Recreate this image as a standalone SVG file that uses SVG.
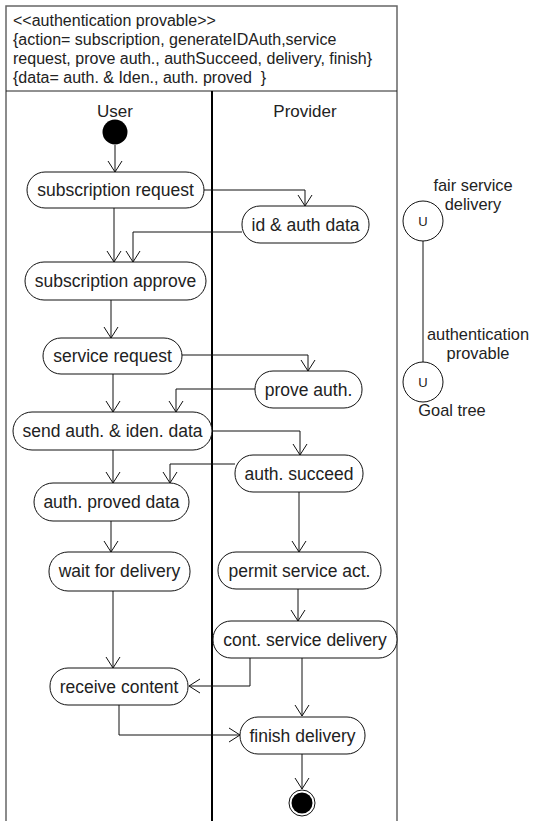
<svg xmlns="http://www.w3.org/2000/svg" width="536" height="821" viewBox="0 0 536 821">
<defs>
<marker id="arr" markerUnits="userSpaceOnUse" viewBox="-12 -8 14 16" refX="0" refY="0" markerWidth="14" markerHeight="16" orient="auto">
<path d="M-11,-7 L0,0 L-11,7" fill="none" stroke="#111" stroke-width="1"/>
</marker>
<style>
.node rect{fill:#fff;stroke:#111;stroke-width:1}
.node text,.t{font-family:"Liberation Sans",Arial,sans-serif;fill:#222}
.node text{font-size:17.5px;text-anchor:middle}
.hdr{font-family:"Liberation Sans",Arial,sans-serif;font-size:16px;fill:#222;white-space:pre}
.lane{font-family:"Liberation Sans",Arial,sans-serif;font-size:17px;fill:#222;text-anchor:middle}
.goal{font-family:"Liberation Sans",Arial,sans-serif;font-size:16.4px;fill:#222;text-anchor:middle}
#connectors path{fill:none;stroke:#111;stroke-width:1;marker-end:url(#arr)}
</style>
</defs>
<rect width="536" height="821" fill="#fff"/>
<g id="frame">
<path d="M6,821 L6,6 L397,6 L397,821" fill="none" stroke="#666" stroke-width="1.5"/>
<line x1="6" y1="91" x2="397" y2="91" stroke="#222" stroke-width="1"/>
<line x1="212" y1="91" x2="212" y2="821" stroke="#000" stroke-width="2"/>
<text class="hdr" x="13" y="26">&lt;&lt;authentication provable&gt;&gt;</text>
<text class="hdr" x="13" y="45">{action= subscription, generateIDAuth,service</text>
<text class="hdr" x="13" y="64">request, prove auth., authSucceed, delivery, finish}</text>
<text class="hdr" x="13" y="83" xml:space="preserve">{data= auth. &amp; Iden., auth. proved  }</text>
<text class="lane" x="115" y="117">User</text>
<text class="lane" x="305" y="117">Provider</text>
</g>
<g id="connectors">
<path d="M115,145 L115,172"/>
<path d="M204,190 L305,190 L305,206"/>
<path d="M242,232 L133,232 L133,262"/>
<path d="M114,208 L114,262"/>
<path d="M111,300 L111,338"/>
<path d="M182,355 L308,355 L308,371"/>
<path d="M255,389 L176,389 L176,412"/>
<path d="M113,374 L113,412"/>
<path d="M212,431 L300,431 L300,455"/>
<path d="M235,464 L170,464 L170,483"/>
<path d="M113,450 L113,483"/>
<path d="M111,521 L111,552"/>
<path d="M299,492 L299,552"/>
<path d="M113,591 L113,668"/>
<path d="M298,589 L298,621"/>
<path d="M250,658 L250,686 L189,686"/>
<path d="M302,658 L302,716"/>
<path d="M119,705 L119,735 L240,735"/>
<path d="M302,754 L302,789"/>
</g>
<g id="start"><circle cx="115" cy="132" r="12.5" fill="#000"/></g>
<g id="n1" class="node"><rect x="27" y="172" width="177" height="36" rx="18"/><text x="115.5" y="196">subscription request</text></g>
<g id="n2" class="node"><rect x="242" y="206" width="127" height="37" rx="18"/><text x="305.5" y="231">id &amp; auth data</text></g>
<g id="n3" class="node"><rect x="25" y="262" width="181" height="38" rx="19"/><text x="115.5" y="287">subscription approve</text></g>
<g id="n4" class="node"><rect x="43" y="338" width="139" height="36" rx="18"/><text x="112.5" y="362">service request</text></g>
<g id="n5" class="node"><rect x="255" y="371" width="107" height="37" rx="18"/><text x="308.5" y="396">prove auth.</text></g>
<g id="n6" class="node"><rect x="13" y="412" width="199" height="38" rx="19"/><text x="112.5" y="437">send auth. &amp; iden. data</text></g>
<g id="n7" class="node"><rect x="235" y="455" width="128" height="37" rx="18"/><text x="299" y="480">auth. succeed</text></g>
<g id="n8" class="node"><rect x="34" y="483" width="155" height="38" rx="19"/><text x="111.5" y="508">auth. proved data</text></g>
<g id="n9" class="node"><rect x="49" y="552" width="141" height="39" rx="19"/><text x="119.5" y="577">wait for delivery</text></g>
<g id="n10" class="node"><rect x="218" y="552" width="163" height="37" rx="18"/><text x="299.5" y="577">permit service act.</text></g>
<g id="n11" class="node"><rect x="213" y="621" width="184" height="37" rx="18"/><text x="305" y="646">cont. service delivery</text></g>
<g id="n12" class="node"><rect x="50" y="668" width="138" height="37" rx="18"/><text x="119" y="693">receive content</text></g>
<g id="n13" class="node"><rect x="240" y="717" width="125" height="37" rx="18"/><text x="302.5" y="742">finish delivery</text></g>
<g id="end"><circle cx="302" cy="803" r="13" fill="#fff" stroke="#111" stroke-width="1"/><circle cx="302" cy="803" r="10.5" fill="#000"/></g>
<g id="goal-tree">
<line x1="423" y1="241" x2="423" y2="362" stroke="#111" stroke-width="1"/>
<g id="g1"><circle cx="423" cy="221" r="20" fill="#fff" stroke="#111" stroke-width="1"/><text class="goal" x="423" y="226" style="font-size:13px">U</text></g>
<g id="g2"><circle cx="423" cy="382" r="20" fill="#fff" stroke="#111" stroke-width="1"/><text class="goal" x="423" y="387" style="font-size:13px">U</text></g>
<text class="goal" x="473" y="191">fair service</text>
<text class="goal" x="473" y="210">delivery</text>
<text class="goal" x="478" y="340">authentication</text>
<text class="goal" x="478" y="359">provable</text>
<text class="goal" x="452" y="416">Goal tree</text>
</g>
</svg>
